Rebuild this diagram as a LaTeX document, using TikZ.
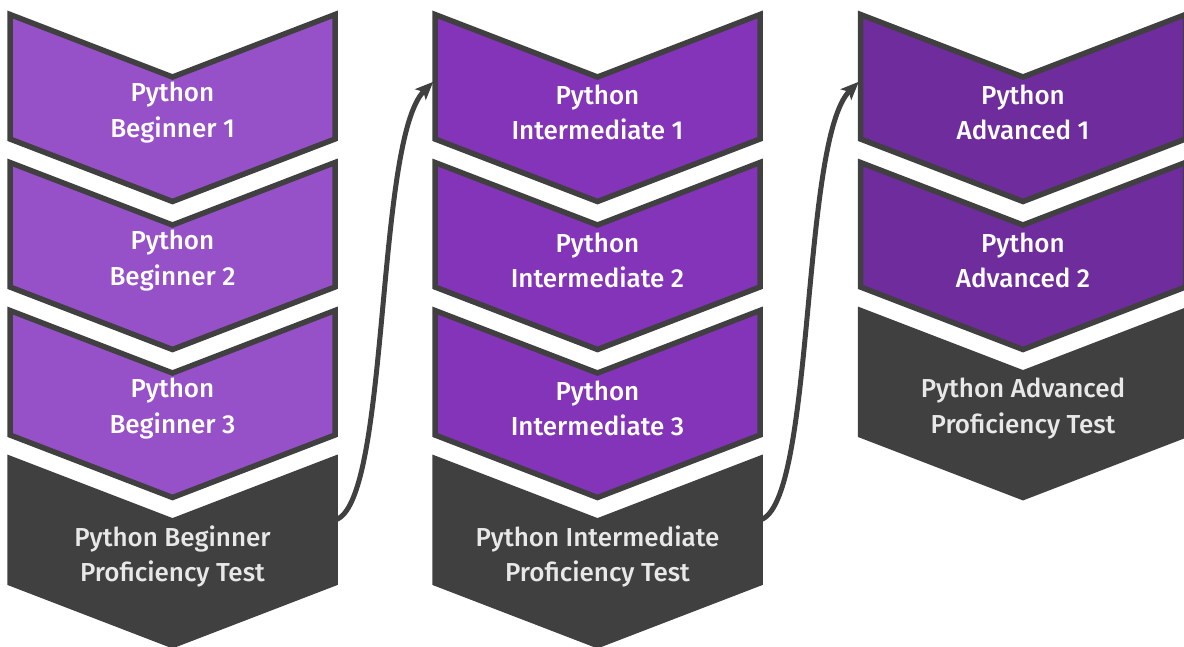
\documentclass[tikz,border=0pt]{standalone}
\usepackage{fontspec}
\setmainfont{Fira Sans}
\newfontfamily\labfont{Fira Sans Medium}
\usetikzlibrary{arrows.meta}
\definecolor{dk}{HTML}{404040}
\definecolor{pA}{HTML}{9650C8}
\definecolor{pB}{HTML}{8334B8}
\definecolor{pC}{HTML}{6E2C9C}
\definecolor{lt}{HTML}{E8E8E8}
\tikzset{
  chevframe/.style={rectangle, inner sep=0pt, outer sep=0pt, minimum width=325pt, minimum height=187pt},
  chevpath/.style={draw=dk, line width=5.5pt, line join=miter},
  lab/.style={inner sep=0pt, align=center, text=white, font=\labfont\fontsize{26}{35.5}\selectfont},
  labdk/.style={lab, text=lt},
  arr/.style={draw=dk, line width=5pt, -{Stealth[length=18pt,width=15pt,inset=4pt]}, shorten >=2.5pt}
}
\newcommand\chevshape[6]{%
  \node[chevframe] (#1) at (#2,{#3+93.5}) {};
  \filldraw[chevpath, fill=#4] (#1.north west) -- ([yshift=-62.5pt]#1.north) -- (#1.north east)
    -- ([yshift=62.5pt]#1.south east) -- (#1.south) -- ([yshift=62.5pt]#1.south west) -- cycle;
  \node[#5] (#1-t) at ([yshift=-4.5pt]#1.center) {#6};
}
\begin{document}
\begin{tikzpicture}[x=1pt,y=-1pt]
\useasboundingbox (0,0) rectangle (1184,646);
\clip (0,0) rectangle (1184,646);
% column 1
\chevshape{b1}{172.5}{14.5}{pA}{lab}{Python\\Beginner 1}
\chevshape{b2}{172.5}{162.5}{pA}{lab}{Python\\Beginner 2}
\chevshape{b3}{172.5}{310.5}{pA}{lab}{Python\\Beginner 3}
\chevshape{bt}{172.5}{458.5}{dk}{labdk}{Python Beginner\\Proficiency Test}
% column 2
\chevshape{i1}{597.5}{14.5}{pB}{lab}{Python\\Intermediate 1}
\chevshape{i2}{597.5}{162.5}{pB}{lab}{Python\\Intermediate 2}
\chevshape{i3}{597.5}{310.5}{pB}{lab}{Python\\Intermediate 3}
\chevshape{it}{597.5}{458.5}{dk}{labdk}{Python Intermediate\\Proficiency Test}
% column 3
\chevshape{a1}{1023}{14.5}{pC}{lab}{Python\\Advanced 1}
\chevshape{a2}{1023}{162.5}{pC}{lab}{Python\\Advanced 2}
\chevshape{at}{1023}{310.5}{dk}{labdk}{Python Advanced\\Proficiency Test}
% connectors
\draw[arr] ([yshift=32pt]bt.east) .. controls +(55,-15) and +(-60,60) .. ([yshift=28pt]i1.west);
\draw[arr] ([yshift=32pt]it.east) .. controls +(55,-15) and +(-60,60) .. ([yshift=28pt]a1.west);
\end{tikzpicture}
\end{document}
